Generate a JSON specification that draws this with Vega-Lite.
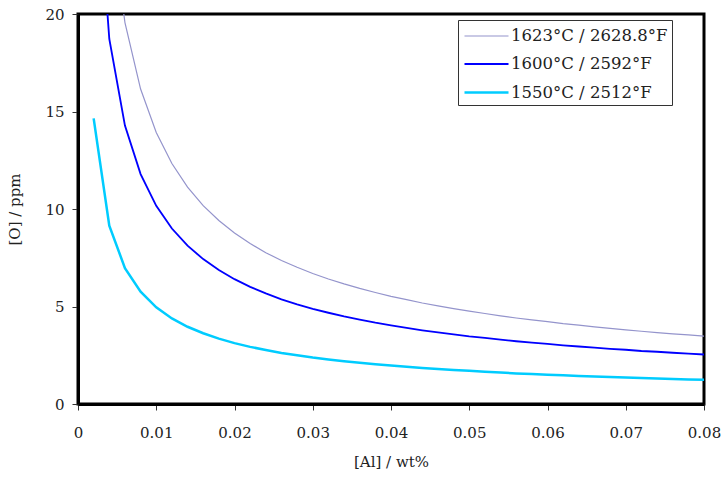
{
  "$schema": "https://vega.github.io/schema/vega-lite/v6.json",
  "width": 626,
  "height": 390,
  "autosize": {"type": "none"},
  "padding": {"left": 78, "top": 14, "right": 22, "bottom": 73},
  "background": "white",
  "config": {
    "view": {"stroke": "black", "strokeWidth": 3},
    "font": "DejaVu Serif",
    "axis": {
      "grid": false,
      "domainColor": "black",
      "domainWidth": 3,
      "tickColor": "#333333",
      "tickWidth": 1,
      "tickSize": 6,
      "labelFont": "DejaVu Serif",
      "labelFontSize": 15,
      "labelColor": "#222222",
      "titleFont": "DejaVu Serif",
      "titleFontSize": 15,
      "titleFontWeight": "normal",
      "titleColor": "#222222"
    }
  },
  "data": {
    "values": [
      {"al": 0.002, "o": 40.70, "series": "1623°C / 2628.8°F"},
      {"al": 0.004, "o": 25.64, "series": "1623°C / 2628.8°F"},
      {"al": 0.006, "o": 19.56, "series": "1623°C / 2628.8°F"},
      {"al": 0.008, "o": 16.15, "series": "1623°C / 2628.8°F"},
      {"al": 0.010, "o": 13.92, "series": "1623°C / 2628.8°F"},
      {"al": 0.012, "o": 12.33, "series": "1623°C / 2628.8°F"},
      {"al": 0.014, "o": 11.12, "series": "1623°C / 2628.8°F"},
      {"al": 0.016, "o": 10.17, "series": "1623°C / 2628.8°F"},
      {"al": 0.018, "o": 9.41, "series": "1623°C / 2628.8°F"},
      {"al": 0.020, "o": 8.77, "series": "1623°C / 2628.8°F"},
      {"al": 0.022, "o": 8.23, "series": "1623°C / 2628.8°F"},
      {"al": 0.024, "o": 7.76, "series": "1623°C / 2628.8°F"},
      {"al": 0.026, "o": 7.36, "series": "1623°C / 2628.8°F"},
      {"al": 0.028, "o": 7.01, "series": "1623°C / 2628.8°F"},
      {"al": 0.030, "o": 6.69, "series": "1623°C / 2628.8°F"},
      {"al": 0.032, "o": 6.41, "series": "1623°C / 2628.8°F"},
      {"al": 0.034, "o": 6.16, "series": "1623°C / 2628.8°F"},
      {"al": 0.036, "o": 5.93, "series": "1623°C / 2628.8°F"},
      {"al": 0.038, "o": 5.72, "series": "1623°C / 2628.8°F"},
      {"al": 0.040, "o": 5.52, "series": "1623°C / 2628.8°F"},
      {"al": 0.042, "o": 5.35, "series": "1623°C / 2628.8°F"},
      {"al": 0.044, "o": 5.18, "series": "1623°C / 2628.8°F"},
      {"al": 0.046, "o": 5.03, "series": "1623°C / 2628.8°F"},
      {"al": 0.048, "o": 4.89, "series": "1623°C / 2628.8°F"},
      {"al": 0.050, "o": 4.76, "series": "1623°C / 2628.8°F"},
      {"al": 0.052, "o": 4.64, "series": "1623°C / 2628.8°F"},
      {"al": 0.054, "o": 4.52, "series": "1623°C / 2628.8°F"},
      {"al": 0.056, "o": 4.41, "series": "1623°C / 2628.8°F"},
      {"al": 0.058, "o": 4.31, "series": "1623°C / 2628.8°F"},
      {"al": 0.060, "o": 4.22, "series": "1623°C / 2628.8°F"},
      {"al": 0.062, "o": 4.12, "series": "1623°C / 2628.8°F"},
      {"al": 0.064, "o": 4.04, "series": "1623°C / 2628.8°F"},
      {"al": 0.066, "o": 3.96, "series": "1623°C / 2628.8°F"},
      {"al": 0.068, "o": 3.88, "series": "1623°C / 2628.8°F"},
      {"al": 0.070, "o": 3.80, "series": "1623°C / 2628.8°F"},
      {"al": 0.072, "o": 3.73, "series": "1623°C / 2628.8°F"},
      {"al": 0.074, "o": 3.66, "series": "1623°C / 2628.8°F"},
      {"al": 0.076, "o": 3.60, "series": "1623°C / 2628.8°F"},
      {"al": 0.078, "o": 3.54, "series": "1623°C / 2628.8°F"},
      {"al": 0.080, "o": 3.48, "series": "1623°C / 2628.8°F"},
      {"al": 0.002, "o": 29.71, "series": "1600°C / 2592°F"},
      {"al": 0.004, "o": 18.72, "series": "1600°C / 2592°F"},
      {"al": 0.006, "o": 14.28, "series": "1600°C / 2592°F"},
      {"al": 0.008, "o": 11.79, "series": "1600°C / 2592°F"},
      {"al": 0.010, "o": 10.16, "series": "1600°C / 2592°F"},
      {"al": 0.012, "o": 9.00, "series": "1600°C / 2592°F"},
      {"al": 0.014, "o": 8.12, "series": "1600°C / 2592°F"},
      {"al": 0.016, "o": 7.43, "series": "1600°C / 2592°F"},
      {"al": 0.018, "o": 6.87, "series": "1600°C / 2592°F"},
      {"al": 0.020, "o": 6.40, "series": "1600°C / 2592°F"},
      {"al": 0.022, "o": 6.01, "series": "1600°C / 2592°F"},
      {"al": 0.024, "o": 5.67, "series": "1600°C / 2592°F"},
      {"al": 0.026, "o": 5.37, "series": "1600°C / 2592°F"},
      {"al": 0.028, "o": 5.11, "series": "1600°C / 2592°F"},
      {"al": 0.030, "o": 4.88, "series": "1600°C / 2592°F"},
      {"al": 0.032, "o": 4.68, "series": "1600°C / 2592°F"},
      {"al": 0.034, "o": 4.49, "series": "1600°C / 2592°F"},
      {"al": 0.036, "o": 4.33, "series": "1600°C / 2592°F"},
      {"al": 0.038, "o": 4.17, "series": "1600°C / 2592°F"},
      {"al": 0.040, "o": 4.03, "series": "1600°C / 2592°F"},
      {"al": 0.042, "o": 3.90, "series": "1600°C / 2592°F"},
      {"al": 0.044, "o": 3.78, "series": "1600°C / 2592°F"},
      {"al": 0.046, "o": 3.67, "series": "1600°C / 2592°F"},
      {"al": 0.048, "o": 3.57, "series": "1600°C / 2592°F"},
      {"al": 0.050, "o": 3.47, "series": "1600°C / 2592°F"},
      {"al": 0.052, "o": 3.39, "series": "1600°C / 2592°F"},
      {"al": 0.054, "o": 3.30, "series": "1600°C / 2592°F"},
      {"al": 0.056, "o": 3.22, "series": "1600°C / 2592°F"},
      {"al": 0.058, "o": 3.15, "series": "1600°C / 2592°F"},
      {"al": 0.060, "o": 3.08, "series": "1600°C / 2592°F"},
      {"al": 0.062, "o": 3.01, "series": "1600°C / 2592°F"},
      {"al": 0.064, "o": 2.95, "series": "1600°C / 2592°F"},
      {"al": 0.066, "o": 2.89, "series": "1600°C / 2592°F"},
      {"al": 0.068, "o": 2.83, "series": "1600°C / 2592°F"},
      {"al": 0.070, "o": 2.78, "series": "1600°C / 2592°F"},
      {"al": 0.072, "o": 2.72, "series": "1600°C / 2592°F"},
      {"al": 0.074, "o": 2.68, "series": "1600°C / 2592°F"},
      {"al": 0.076, "o": 2.63, "series": "1600°C / 2592°F"},
      {"al": 0.078, "o": 2.58, "series": "1600°C / 2592°F"},
      {"al": 0.080, "o": 2.54, "series": "1600°C / 2592°F"},
      {"al": 0.002, "o": 14.65, "series": "1550°C / 2512°F"},
      {"al": 0.004, "o": 9.14, "series": "1550°C / 2512°F"},
      {"al": 0.006, "o": 6.97, "series": "1550°C / 2512°F"},
      {"al": 0.008, "o": 5.76, "series": "1550°C / 2512°F"},
      {"al": 0.010, "o": 4.96, "series": "1550°C / 2512°F"},
      {"al": 0.012, "o": 4.39, "series": "1550°C / 2512°F"},
      {"al": 0.014, "o": 3.96, "series": "1550°C / 2512°F"},
      {"al": 0.016, "o": 3.63, "series": "1550°C / 2512°F"},
      {"al": 0.018, "o": 3.35, "series": "1550°C / 2512°F"},
      {"al": 0.020, "o": 3.12, "series": "1550°C / 2512°F"},
      {"al": 0.022, "o": 2.93, "series": "1550°C / 2512°F"},
      {"al": 0.024, "o": 2.77, "series": "1550°C / 2512°F"},
      {"al": 0.026, "o": 2.62, "series": "1550°C / 2512°F"},
      {"al": 0.028, "o": 2.50, "series": "1550°C / 2512°F"},
      {"al": 0.030, "o": 2.38, "series": "1550°C / 2512°F"},
      {"al": 0.032, "o": 2.28, "series": "1550°C / 2512°F"},
      {"al": 0.034, "o": 2.19, "series": "1550°C / 2512°F"},
      {"al": 0.036, "o": 2.11, "series": "1550°C / 2512°F"},
      {"al": 0.038, "o": 2.04, "series": "1550°C / 2512°F"},
      {"al": 0.040, "o": 1.97, "series": "1550°C / 2512°F"},
      {"al": 0.042, "o": 1.91, "series": "1550°C / 2512°F"},
      {"al": 0.044, "o": 1.85, "series": "1550°C / 2512°F"},
      {"al": 0.046, "o": 1.79, "series": "1550°C / 2512°F"},
      {"al": 0.048, "o": 1.74, "series": "1550°C / 2512°F"},
      {"al": 0.050, "o": 1.70, "series": "1550°C / 2512°F"},
      {"al": 0.052, "o": 1.65, "series": "1550°C / 2512°F"},
      {"al": 0.054, "o": 1.61, "series": "1550°C / 2512°F"},
      {"al": 0.056, "o": 1.57, "series": "1550°C / 2512°F"},
      {"al": 0.058, "o": 1.54, "series": "1550°C / 2512°F"},
      {"al": 0.060, "o": 1.50, "series": "1550°C / 2512°F"},
      {"al": 0.062, "o": 1.47, "series": "1550°C / 2512°F"},
      {"al": 0.064, "o": 1.44, "series": "1550°C / 2512°F"},
      {"al": 0.066, "o": 1.41, "series": "1550°C / 2512°F"},
      {"al": 0.068, "o": 1.38, "series": "1550°C / 2512°F"},
      {"al": 0.070, "o": 1.36, "series": "1550°C / 2512°F"},
      {"al": 0.072, "o": 1.33, "series": "1550°C / 2512°F"},
      {"al": 0.074, "o": 1.31, "series": "1550°C / 2512°F"},
      {"al": 0.076, "o": 1.28, "series": "1550°C / 2512°F"},
      {"al": 0.078, "o": 1.26, "series": "1550°C / 2512°F"},
      {"al": 0.080, "o": 1.24, "series": "1550°C / 2512°F"}
    ]
  },
  "mark": {"type": "line", "clip": true, "interpolate": "linear"},
  "encoding": {
    "x": {
      "field": "al",
      "type": "quantitative",
      "scale": {"domain": [0, 0.08], "nice": false, "zero": false},
      "axis": {
        "title": "[Al] / wt%",
        "values": [0, 0.01, 0.02, 0.03, 0.04, 0.05, 0.06, 0.07, 0.08],
        "format": "~g",
        "labelPadding": 15,
        "titlePadding": 14,
        "labelFlush": false
      }
    },
    "y": {
      "field": "o",
      "type": "quantitative",
      "scale": {"domain": [0, 20], "nice": false},
      "axis": {
        "title": "[O] / ppm",
        "values": [0, 5, 10, 15, 20],
        "labelPadding": 8,
        "titlePadding": 22,
        "labelFlush": false
      }
    },
    "color": {
      "field": "series",
      "type": "nominal",
      "scale": {
        "domain": ["1623°C / 2628.8°F", "1600°C / 2592°F", "1550°C / 2512°F"],
        "range": ["#9494cc", "#0000ff", "#00ccff"]
      },
      "legend": {
        "title": null,
        "orient": "none",
        "legendX": 380,
        "legendY": 6,
        "symbolType": "M-2,0H2",
        "symbolSize": 484,
        "symbolOffset": 12,
        "labelFont": "DejaVu Serif",
        "labelFontSize": 16.5,
        "labelColor": "#222222",
        "labelOffset": 12,
        "rowPadding": 7,
        "fillColor": "white",
        "strokeColor": "#333333",
        "padding": 4
      }
    },
    "strokeWidth": {
      "field": "series",
      "type": "nominal",
      "scale": {
        "domain": ["1623°C / 2628.8°F", "1600°C / 2592°F", "1550°C / 2512°F"],
        "range": [1.2, 2.5, 2.5]
      },
      "legend": null
    }
  }
}
